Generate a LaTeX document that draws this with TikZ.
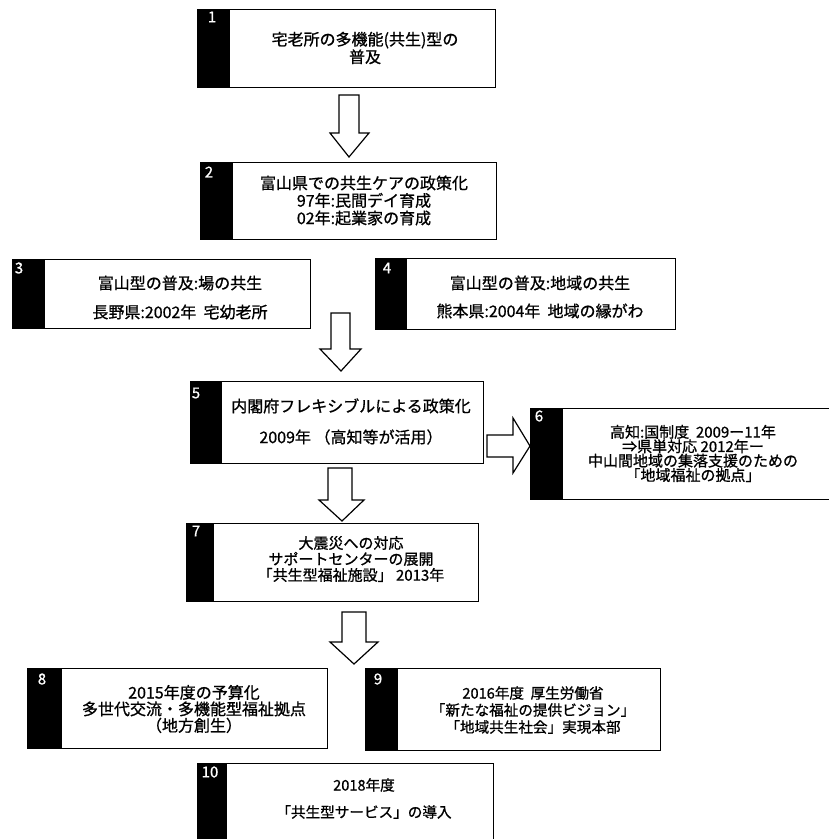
\documentclass[tikz,border=0pt]{standalone}
\usepackage{fontspec}
\setmainfont{Noto Sans CJK JP}[FakeBold=0.9]
\begin{document}
\begin{tikzpicture}[x=1pt,y=-1pt,
  boxst/.style={draw=black, line width=1.3pt, fill=white, inner sep=0pt, anchor=north west},
  num/.style={text=white, font=\fontsize{15}{15}\selectfont, inner sep=0pt},
  txt/.style={font=\fontsize{16}{#1}\selectfont, align=center, inner sep=0pt},
  txt/.default=17,
  stxt/.style 2 args={font=\fontsize{#1}{#2}\selectfont, align=center, inner sep=0pt},
  blockarrow/.style={draw=black, fill=white, line width=1.2pt, line join=miter}]
\useasboundingbox (0,0) rectangle (829,839);
\fill[white] (0,0) rectangle (829,839);

% boxes
\node[boxst, minimum width=298pt, minimum height=78pt] (b1) at (197,9) {};
\fill (b1.north west) rectangle ([xshift=33pt]b1.south west);
\node[boxst, minimum width=296pt, minimum height=77pt] (b2) at (200,162) {};
\fill (b2.north west) rectangle ([xshift=33pt]b2.south west);
\node[boxst, minimum width=298pt, minimum height=69pt] (b3) at (12,259) {};
\fill (b3.north west) rectangle ([xshift=33pt]b3.south west);
\node[boxst, minimum width=300pt, minimum height=71pt] (b4) at (375,258) {};
\fill (b4.north west) rectangle ([xshift=32pt]b4.south west);
\node[boxst, minimum width=293pt, minimum height=82pt] (b5) at (190,381) {};
\fill (b5.north west) rectangle ([xshift=32pt]b5.south west);
\node[boxst, minimum width=310pt, minimum height=91pt] (b6) at (530,408) {};
\fill (b6.north west) rectangle ([xshift=33pt]b6.south west);
\node[boxst, minimum width=292pt, minimum height=78pt] (b7) at (186,523) {};
\fill (b7.north west) rectangle ([xshift=28pt]b7.south west);
\node[boxst, minimum width=300pt, minimum height=80pt] (b8) at (27,668) {};
\fill (b8.north west) rectangle ([xshift=35pt]b8.south west);
\node[boxst, minimum width=295pt, minimum height=82pt] (b9) at (365,668) {};
\fill (b9.north west) rectangle ([xshift=33pt]b9.south west);
\node[boxst, minimum width=296pt, minimum height=90pt] (b10) at (197,763) {};
\fill (b10.north west) rectangle ([xshift=30pt]b10.south west);

% numbers
\node[num] (n1) at (212,17) {1};
\node[num] (n2) at (209,172) {2};
\node[num] (n3) at (19,268) {3};
\node[num] (n4) at (387,268) {4};
\node[num] (n5) at (196,393) {5};
\node[num] (n6) at (539,416) {6};
\node[num] (n7) at (196,531) {7};
\node[num] (n8) at (42,679) {8};
\node[num] (n9) at (378,679) {9};
\node[num] (n10) at (210,772) {10};

% texts
\node[txt=16] (t1) at (365,48) {宅老所の多機能(共生)型の\\普及};
\node[txt=17.5] (t2) at (364,200.5) {富山県での共生ケアの政策化\\97年:民間デイ育成\\02年:起業家の育成};
\node[txt=29] (t3) at (180,297.5) {富山型の普及:場の共生\\長野県:2002年\ \ 宅幼老所};
\node[txt=28] (t4) at (540,297) {富山型の普及:地域の共生\\熊本県:2004年\ \ 地域の縁がわ};
\node[txt=31] (t5) at (351,421.5) {内閣府フレキシブルによる政策化\\2009年\ （高知等が活用）};
\node[stxt={15}{14.4}] (t6) at (693,453.5) {高知:国制度\ \ 2009ー11年\\⇒県単対応\ 2012年ー\\中山間地域の集落支援のための\\「地域福祉の拠点」};
\node[stxt={15}{16}] (t7) at (351,559) {大震災への対応\\サポートセンターの展開\\「共生型福祉施設」\ 2013年};
\node[txt=16.5] (t8) at (194,709) {2015年度の予算化\\多世代交流・多機能型福祉拠点\\（地方創生）};
\node[stxt={14.6}{17}] (t9) at (533,710) {2016年度\ \ 厚生労働省\\「新たな福祉の提供ビジョン」\\「地域共生社会」実現本部};
\node[stxt={14.6}{27}] (t10) at (364,798.5) {2018年度\\「共生型サービス」の導入};

% block arrows
\draw[blockarrow] (339,95)--(359,95)--(359,133)--(369,133)--(349,157)--(330,133)--(339,133)--cycle;
\draw[blockarrow] (331,313)--(350,313)--(350,349)--(361,349)--(341,371)--(320,349)--(331,349)--cycle;
\draw[blockarrow] (487,435)--(513,435)--(513,418)--(530,446)--(513,473)--(513,457)--(487,457)--cycle;
\draw[blockarrow] (328,468)--(352,468)--(352,500)--(364,500)--(342,521)--(319,500)--(328,500)--cycle;
\draw[blockarrow] (342,612)--(366,612)--(366,642)--(378,642)--(354,664)--(330,642)--(342,642)--cycle;
\end{tikzpicture}
\end{document}
